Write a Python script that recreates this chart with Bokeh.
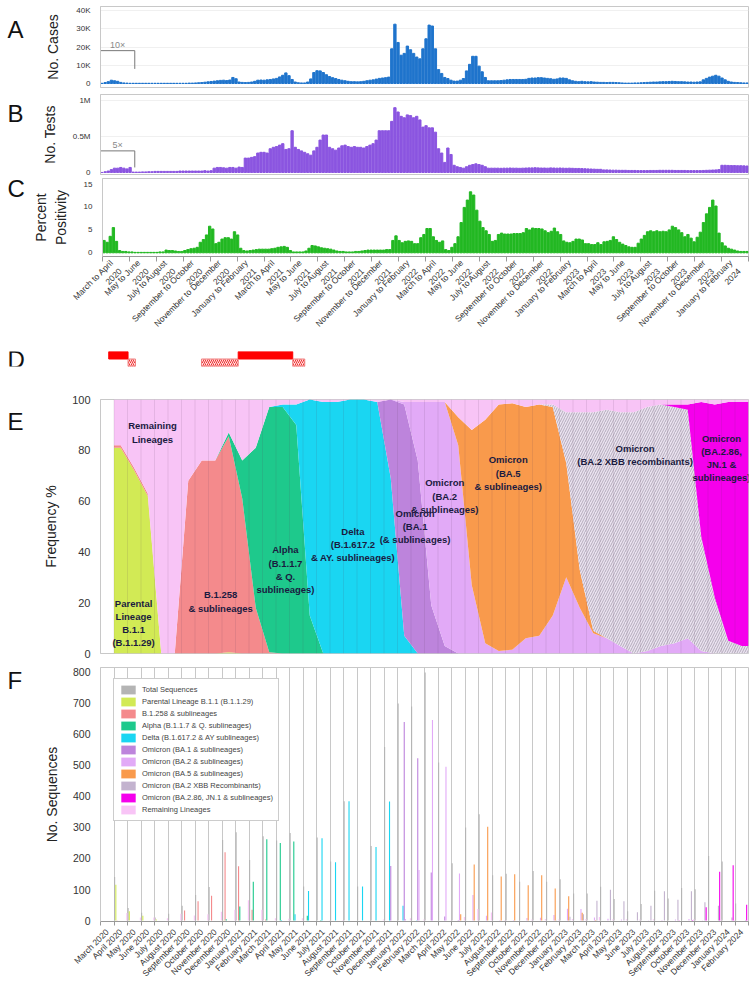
import math
import numpy as np
from bokeh.plotting import figure
from bokeh.layouts import column, row
from bokeh.models import Range1d, FixedTicker
from bokeh.embed import file_html
from bokeh.resources import INLINE
from bokeh.core.properties import value

FONT = "Liberation Sans"
LW = 30          # width of the letter strip
W = 725          # width of each chart
LB = 70
RB = 7

# ---------------- weekly surveillance data (Mar 2020 - Feb 2024) ----------------
cases_thousands = [
    0.1, 0.5, 1.0, 1.8, 1.5, 1.2, 0.6, 0.3, 0.2, 0.1,
    0.1, 0.1, 0.1, 0.1, 0.1, 0.1, 0.1, 0.1, 0.1, 0.1,
    0.1, 0.1, 0.1, 0.1, 0.1, 0.1, 0.1, 0.1, 0.2, 0.2,
    0.3, 0.4, 0.5, 0.7, 0.9, 1.1, 1.3, 1.5, 1.7, 1.8,
    1.6, 1.9, 3.3, 2.6, 0.8, 0.6, 0.5, 0.6, 0.8, 1.2,
    1.8, 1.9, 1.8, 2.0, 2.2, 2.5, 2.8, 3.6, 4.5, 5.8,
    4.3, 2.2, 0.8, 0.4, 0.3, 0.3, 0.8, 2.5, 6.0, 7.0,
    6.9, 6.0, 4.8, 3.8, 3.2, 2.7, 2.2, 1.8, 1.5, 1.2,
    1.0, 1.0, 0.9, 1.0, 1.2, 1.5, 1.8, 2.0, 2.4, 2.8,
    3.0, 3.2, 3.5, 19.0, 32.5, 22.5, 15.5, 16.5, 20.5, 18.5,
    16.5, 14.5, 13.5, 19.0, 24.5, 32.0, 31.5, 19.0, 7.6, 5.5,
    3.3, 2.7, 1.8, 1.3, 1.3, 1.8, 2.7, 6.9, 10.5, 14.9,
    14.9, 9.5, 6.4, 3.3, 1.5, 1.5, 1.5, 1.5, 1.6, 1.8,
    2.0, 2.2, 2.2, 2.2, 2.2, 2.2, 2.3, 2.8, 3.0, 3.0,
    3.2, 3.2, 3.0, 2.8, 2.6, 2.3, 2.5, 3.0, 3.0, 2.8,
    2.0, 1.5, 1.2, 1.0, 1.2, 1.0, 0.9, 1.0, 0.8, 0.7,
    0.6, 0.6, 0.5, 0.6, 0.6, 0.5, 0.4, 0.3, 0.2, 0.2,
    0.2, 0.3, 0.3, 0.4, 0.5, 0.6, 0.7, 0.8, 0.8, 0.9,
    1.0, 1.0, 1.1, 1.2, 1.1, 1.0, 1.0, 0.9, 0.8, 0.8,
    0.7, 0.8, 0.9, 2.0, 2.8, 3.5, 4.0, 4.5, 4.0, 3.0,
    2.0, 1.2, 0.8, 0.6, 0.5, 0.4, 0.3, 0.3,
]

tests_millions = [
    0.0, 0.01, 0.02, 0.04, 0.06, 0.06, 0.07, 0.06, 0.05, 0.07,
    0.005, 0.005, 0.005, 0.008, 0.008, 0.01, 0.01, 0.015, 0.015, 0.015,
    0.015, 0.015, 0.015, 0.015, 0.015, 0.02, 0.02, 0.02, 0.02, 0.02,
    0.02, 0.02, 0.02, 0.025, 0.02, 0.025,
    0.06, 0.07, 0.07, 0.065, 0.06, 0.07, 0.07, 0.06, 0.075, 0.07,
    0.20, 0.20, 0.21, 0.22, 0.27, 0.28, 0.28,
    0.27, 0.33, 0.35, 0.36, 0.38, 0.40, 0.32, 0.33, 0.58, 0.35,
    0.32, 0.30, 0.28, 0.26, 0.24, 0.30, 0.35, 0.45, 0.52, 0.52,
    0.35, 0.33, 0.31, 0.34, 0.37, 0.38, 0.36, 0.35, 0.36, 0.35,
    0.35, 0.34, 0.36, 0.38, 0.40, 0.45,
    0.58, 0.58, 0.58, 0.58,
    0.71, 0.90, 0.84, 0.78, 0.76, 0.80, 0.79, 0.76, 0.78, 0.73,
    0.63, 0.65, 0.62, 0.62, 0.56, 0.33, 0.27, 0.14, 0.34, 0.25,
    0.10, 0.08, 0.07, 0.06, 0.08, 0.10, 0.11, 0.12, 0.11, 0.10,
    0.08, 0.06, 0.06, 0.06, 0.06,
    0.058, 0.060, 0.060, 0.062, 0.060, 0.060, 0.058, 0.060, 0.062, 0.064,
    0.064, 0.066, 0.064, 0.062, 0.062, 0.060, 0.064, 0.062, 0.060, 0.062,
    0.060, 0.058, 0.060, 0.058, 0.056, 0.056, 0.054, 0.052, 0.050, 0.048,
    0.046, 0.044, 0.044,
    0.036, 0.036, 0.034, 0.032, 0.032, 0.030, 0.030, 0.030, 0.028, 0.028,
    0.028, 0.026, 0.026, 0.026, 0.026, 0.028, 0.028, 0.028, 0.030, 0.030,
    0.030, 0.030, 0.030, 0.028, 0.028, 0.028, 0.028, 0.026, 0.026, 0.026,
    0.026, 0.026, 0.028, 0.030, 0.032, 0.034, 0.036, 0.040,
    0.10, 0.10, 0.098, 0.096, 0.096, 0.094, 0.094, 0.092, 0.090,
]

positivity_pct = [
    2.7, 2.3, 3.6, 5.5, 2.5, 0.5, 0.3, 0.3, 0.2, 0.2,
    0.1, 0.1, 0.1, 0.1, 0.1, 0.1, 0.1, 0.1, 0.2, 0.2,
    0.6, 0.5, 0.5, 0.4, 0.3,
    0.3, 0.5, 0.7, 0.9, 1.0, 1.2,
    2.3, 2.9, 3.9, 5.8, 5.2, 2.0, 2.3, 3.0, 3.3, 3.3, 3.0, 4.6, 3.9, 1.0,
    0.5, 0.4, 0.5, 0.6, 0.7, 0.8, 0.8, 0.8, 0.8, 0.9, 1.0, 1.2, 1.3, 1.4, 1.2, 0.5,
    0.2, 0.2, 0.2, 0.2, 0.4,
    1.0, 1.6, 1.5, 1.3, 1.1, 1.0, 0.9, 0.8, 0.6,
    0.4, 0.3, 0.3, 0.2, 0.2, 0.2, 0.3, 0.3, 0.4, 0.5, 0.6, 0.6,
    0.6, 0.6, 0.6, 0.6, 0.7, 0.7,
    2.7, 3.7, 2.7, 2.2, 2.5, 2.6, 2.5, 2.0, 2.0, 3.3,
    4.0, 5.3, 5.3, 3.5, 2.7, 2.3, 2.6, 0.7, 0.5, 1.2,
    2.0, 3.5, 6.6, 9.9, 11.5, 13.3, 12.6, 9.3, 6.9, 5.5,
    4.8, 4.0, 2.5, 2.7, 4.0, 4.3, 4.1, 4.1, 4.1, 4.2, 4.2, 4.2,
    4.4, 5.3, 5.0, 5.4, 5.3, 5.3, 5.2, 4.8, 4.4, 4.7, 5.4,
    4.6, 4.0, 2.6, 2.3, 2.2, 2.5, 3.0, 3.0, 2.8, 2.0, 2.0,
    1.8, 1.8, 2.2, 1.8, 2.4, 2.5, 2.7, 3.5, 2.9, 2.3,
    1.9, 1.6, 1.3, 1.2, 1.2, 2.1, 3.0, 3.8, 4.6, 4.8, 4.6,
    4.8, 4.6, 4.7, 4.6, 5.0, 5.8, 5.5, 5.0, 4.4, 3.5, 4.0,
    3.2, 2.4, 3.4, 4.5, 6.6, 8.5, 9.9, 11.5, 10.2, 4.3,
    2.2, 1.5, 1.0, 0.8, 0.6, 0.4, 0.3, 0.3, 0.3,
]

# first weeks shown magnified
magnified_weeks = 11
cases_scale_label = "10×"
tests_scale_label = "5×"

period_labels = [
    "March to April\n2020", "May to June\n2020", "July to August\n2020",
    "September to October\n2020", "November to December\n2020", "January to February\n2021",
    "March to April\n2021", "May to June\n2021", "July to August\n2021",
    "September to October\n2021", "November to December\n2021", "January to February\n2022",
    "March to April\n2022", "May to June\n2022", "July to August\n2022",
    "September to October\n2022", "November to December\n2022", "January to February\n2023",
    "March to April\n2023", "May to June\n2023", "July to August\n2023",
    "September to October\n2023", "November to December\n2023", "January to February\n2024",
]

# ---------------- D: restriction periods (months since 1 March 2020) ----------------
lockdown_start = [0.61, 10.2]
lockdown_end = [2.04, 14.24]
partial_start = [2.04, 7.48, 14.24]
partial_end = [2.59, 10.2, 15.13]

# ---------------- E: monthly lineage frequency (%) April 2020 - February 2024 ----------------
e_parental = [81, 72, 62, 0, 0, 0, 0, 0, 0.5, 0, 0, 0, 0, 0, 0, 0, 0, 0, 0, 0, 0, 0, 0, 0,
              0, 0, 0, 0, 0, 0, 0, 0, 0, 0, 0, 0, 0, 0, 0, 0, 0, 0, 0, 0, 0, 0, 0]
e_b1258 = [1, 1, 1, 0, 0, 68, 76, 76, 85, 61, 18, 0.5, 0, 0, 0, 0, 0, 0, 0, 0, 0, 0, 0, 0,
           0, 0, 0, 0, 0, 0, 0, 0, 0, 0, 0, 0, 0, 0, 0, 0, 0, 0, 0, 0, 0, 0, 0]
e_alpha = [0, 0, 0, 0, 0, 0, 0, 0, 1.5, 15, 63, 96.5, 97, 90, 15, 0, 0, 0, 0, 0, 0, 0, 0, 0,
           0, 0, 0, 0, 0, 0, 0, 0, 0, 0, 0, 0, 0, 0, 0, 0, 0, 0, 0, 0, 0, 0, 0]
e_delta = [0, 0, 0, 0, 0, 0, 0, 0, 0, 0, 0, 0, 1, 8, 85, 99, 99, 100, 100, 99, 69, 7, 0, 0,
           0, 0, 0, 0, 0, 0, 0, 0, 0, 0, 0, 0, 0, 0, 0, 0, 0, 0, 0, 0, 0, 0, 0]
e_ba1 = [0, 0, 0, 0, 0, 0, 0, 0, 0, 0, 0, 0, 0, 0, 0, 0, 0, 0, 0, 0, 31, 91, 76, 19,
         3, 0, 0, 0, 0, 0, 0, 0, 0, 0, 0, 0, 0, 0, 0, 0, 0, 0, 0, 0, 0, 0, 0]
e_ba2 = [0, 0, 0, 0, 0, 0, 0, 0, 0, 0, 0, 0, 0, 0, 0, 0, 0, 0, 0, 0, 0, 1, 23, 80,
         96, 82, 27, 4, 1, 1.5, 6, 7, 15, 30, 18, 8, 6, 3, 0, 1, 3, 4, 6, 1, 0, 0, 0]
e_ba5 = [0, 0, 0, 0, 0, 0, 0, 0, 0, 0, 0, 0, 0, 0, 0, 0, 0, 0, 0, 0, 0, 0, 0, 0,
         0, 11, 61, 88, 97, 97, 91, 91, 82, 45, 15, 1, 0, 0, 0, 0, 0, 0, 0, 0, 0, 0, 0]
e_xbb = [0, 0, 0, 0, 0, 0, 0, 0, 0, 0, 0, 0, 0, 0, 0, 0, 0, 0, 0, 0, 0, 0, 0, 0,
         0, 0, 0, 0, 0, 0, 0, 0, 1, 20, 62, 86, 90, 92, 95, 96, 95, 93, 90, 45, 22, 5, 3]
e_ba286 = [0, 0, 0, 0, 0, 0, 0, 0, 0, 0, 0, 0, 0, 0, 0, 0, 0, 0, 0, 0, 0, 0, 0, 0,
           0, 0, 0, 0, 0, 0, 0, 0, 0, 0, 0, 0, 0, 0, 0, 0, 0, 1, 2, 53, 76, 94, 96]
e_remaining = [18, 27, 37, 100, 100, 32, 24, 24, 13, 24, 19, 3, 2, 2, 0, 1, 1, 0, 0, 1, 0, 1, 1, 1,
               1, 7, 12, 8, 2, 1.5, 3, 2, 2, 5, 5, 5, 4, 5, 5, 3, 2, 2, 2, 1, 2, 1, 1]

# label anchors (month axis, %)
e_label_x = [2.45, 3.85, 8.9, 13.7, 18.7, 23.3, 25.5, 30.2, 39.6, 46.0]
e_label_y = [12, 87, 20.5, 33, 43, 50, 62, 71, 78, 77]
e_label_text = [
    "Parental\nLineage\nB.1.1\n(B.1.1.29)",
    "Remaining\nLineages",
    "B.1.258\n& sublineages",
    "Alpha\n(B.1.1.7\n& Q.\nsublineages)",
    "Delta\n(B.1.617.2\n& AY. sublineages)",
    "Omicron\n(BA.1\n(& sublineages)",
    "Omicron\n(BA.2\n& sublineages)",
    "Omicron\n(BA.5\n& sublineages)",
    "Omicron\n(BA.2 XBB recombinants)",
    "Omicron\n(BA.2.86,\nJN.1 &\nsublineages)",
]

# ---------------- F: monthly sequence counts, March 2020 - February 2024 ----------------
month_names = ["January", "February", "March", "April", "May", "June", "July",
               "August", "September", "October", "November", "December"]
f_month_labels = [f"{month_names[(2 + i) % 12]} {2020 + (2 + i) // 12}" for i in range(48)]

f_total = [0, 140, 40, 25, 10, 22, 48, 82, 108, 260, 285, 195, 272, 258, 282, 110, 268, 190, 385, 110,
           240, 560, 700, 690, 800, 510, 185, 300, 343, 146, 151, 125, 160, 125, 133, 87, 87, 109, 69, 30,
           53, 96, 71, 105, 101, 208, 190, 55]
f_parental = [0, 115, 30, 15, 3, 0, 0, 0, 0, 1, 0, 0, 0, 0, 0, 0, 0, 0, 0, 0,
              0, 0, 0, 0, 0, 0, 0, 0, 0, 0, 0, 0, 0, 0, 0, 0, 0, 0, 0, 0, 0, 0, 0, 0, 0, 0, 0, 0]
f_b1258 = [0, 1, 0, 0, 0, 0, 32, 62, 80, 220, 175, 35, 3, 0, 0, 0, 0, 0, 0, 0,
           0, 0, 0, 0, 0, 0, 0, 0, 0, 0, 0, 0, 0, 0, 0, 0, 0, 0, 0, 0, 0, 0, 0, 0, 0, 0, 0, 0]
f_alpha = [0, 0, 0, 0, 0, 0, 0, 0, 0, 4, 45, 125, 262, 250, 255, 15, 2, 0, 0, 0,
           0, 0, 0, 0, 0, 0, 0, 0, 0, 0, 0, 0, 0, 0, 0, 0, 0, 0, 0, 0, 0, 0, 0, 0, 0, 0, 0, 0]
f_delta = [0, 0, 0, 0, 0, 0, 0, 0, 0, 0, 0, 0, 0, 2, 20, 95, 265, 188, 385, 110,
           237, 384, 48, 1, 0, 0, 0, 0, 0, 0, 0, 0, 0, 0, 0, 0, 0, 0, 0, 0, 0, 0, 0, 0, 0, 0, 0, 0]
f_ba1 = [0, 0, 0, 0, 0, 0, 0, 0, 0, 0, 0, 0, 0, 0, 0, 0, 0, 0, 0, 0,
         0, 176, 640, 523, 155, 13, 2, 0, 0, 0, 0, 0, 0, 0, 0, 0, 0, 0, 0, 0, 0, 0, 0, 0, 0, 0, 0, 0]
f_ba2 = [0, 0, 0, 0, 0, 0, 0, 0, 0, 0, 0, 0, 0, 0, 0, 0, 0, 0, 0, 0,
         0, 0, 5, 163, 647, 496, 152, 82, 15, 2, 2, 8, 9, 18, 38, 37, 10, 6, 3, 0,
         1, 2, 3, 5, 1, 0, 0, 0]
f_ba5 = [0, 0, 0, 0, 0, 0, 0, 0, 0, 0, 0, 0, 0, 0, 0, 0, 0, 0, 0, 0,
         0, 0, 0, 0, 0, 0, 20, 181, 302, 142, 149, 114, 146, 103, 78, 25, 2, 0, 0, 0,
         0, 0, 0, 0, 0, 0, 0, 0]
f_xbb = [0, 0, 0, 0, 0, 0, 0, 0, 0, 0, 0, 0, 0, 0, 0, 0, 0, 0, 0, 0,
         0, 0, 0, 0, 0, 0, 0, 0, 0, 0, 0, 0, 0, 1, 12, 20, 64, 99, 62, 27,
         48, 94, 67, 94, 59, 48, 10, 2]
f_ba286 = [0, 0, 0, 0, 0, 0, 0, 0, 0, 0, 0, 0, 0, 0, 0, 0, 0, 0, 0, 0,
           0, 0, 0, 0, 0, 0, 0, 0, 0, 0, 0, 0, 0, 0, 0, 0, 0, 0, 0, 0,
           0, 0, 1, 2, 43, 157, 178, 51]
f_remaining = [0, 24, 10, 10, 7, 22, 16, 20, 28, 35, 65, 35, 7, 6, 7, 0, 1, 2, 0, 0,
               3, 0, 7, 3, 0, 1, 11, 37, 26, 2, 0, 3, 5, 3, 5, 5, 11, 4, 4, 3,
               4, 0, 0, 4, 0, 3, 2, 2]

series_names = [
    "Total Sequences", "Parental Lineage B.1.1 (B.1.1.29)", "B.1.258 & sublineages",
    "Alpha (B.1.1.7 & Q. sublineages)", "Delta (B.1.617.2 & AY sublineages)",
    "Omicron (BA.1 & sublineages)", "Omicron (BA.2 & sublineages)", "Omicron (BA.5 & sublineages)",
    "Omicron (BA.2 XBB Recombinants)", "Omicron (BA.2.86, JN.1 & sublineages)", "Remaining Lineages",
]
series_colors = ["#b4b4b4", "#d2ea55", "#f48a8c", "#1ec98c", "#1ad6f2", "#bd84dc",
                 "#e2aaf7", "#f99a4c", "#c3b3cf", "#f500ec", "#f8c4f6"]
f_series = [f_total, f_parental, f_b1258, f_alpha, f_delta, f_ba1, f_ba2, f_ba5, f_xbb, f_ba286, f_remaining]
e_series = [e_parental, e_b1258, e_alpha, e_delta, e_ba1, e_ba2, e_ba5, e_xbb, e_ba286, e_remaining]


# ---------------- helpers ----------------
def make_fig(h, top, bottom, xr, yr):
    p = figure(width=W, height=h, min_border_left=LB, min_border_right=RB,
               min_border_top=top, min_border_bottom=bottom,
               x_range=Range1d(*xr), y_range=Range1d(*yr),
               output_backend="svg", toolbar_location=None)
    p.outline_line_color = "#c8c8c8"
    p.xgrid.grid_line_color = None
    p.ygrid.grid_line_color = None
    return p


def style_y(p, ticks, overrides, fs, label, standoff):
    ax = p.yaxis[0]
    ax.ticker = FixedTicker(ticks=ticks)
    if overrides:
        ax.major_label_overrides = overrides
    ax.major_label_text_font = FONT
    ax.major_label_text_font_size = fs
    ax.major_label_text_color = "#333333"
    ax.major_tick_line_color = None
    ax.minor_tick_line_color = None
    ax.axis_line_color = "#c8c8c8"
    ax.major_label_standoff = 4
    ax.axis_label = label
    ax.axis_label_text_font = FONT
    ax.axis_label_text_font_style = "normal"
    ax.axis_label_text_font_size = "14px"
    ax.axis_label_text_color = "#222222"
    ax.axis_label_standoff = standoff


def letter_strip(h, txt, baseline):
    p = figure(width=LW, height=h, x_range=Range1d(0, LW), y_range=Range1d(h, 0),
               min_border_left=0, min_border_right=0, min_border_top=0, min_border_bottom=0,
               x_axis_location=None, y_axis_location=None,
               output_backend="svg", toolbar_location=None)
    p.grid.visible = False
    p.outline_line_color = None
    p.text(x=[7], y=[baseline], text=[txt], text_font=value(FONT), text_font_size="24px",
           text_color="#111111", text_baseline="alphabetic", text_align="left")
    return p


def weekly_x(n):
    return (np.arange(n) + 0.5) * 48.0 / n


# ---------------- A ----------------
HA = 90
pa = make_fig(HA, 6, 3, (0, 48), (-2.2, 42.2))
pa.xaxis.visible = False
style_y(pa, [0, 10, 20, 30, 40], {0: "0", 10: "10K", 20: "20K", 30: "30K", 40: "40K"}, "8px", "No. Cases", 12)
pa.ygrid.grid_line_color = "#f0f0f0"
pa.ygrid.ticker = FixedTicker(ticks=[10, 20, 30, 40])
xa = weekly_x(len(cases_thousands))
pa.vbar(x=xa, top=cases_thousands, width=0.75 * 48 / len(cases_thousands), color="#1f74cc")
mag_end = magnified_weeks * 48.0 / len(cases_thousands)
pa.line(x=[0, 0, mag_end, mag_end], y=[1.5, 18, 18, 8], line_color="#777777", line_width=1)
pa.text(x=[mag_end / 2], y=[18.5], text=[cases_scale_label], text_align="center", text_baseline="bottom",
        text_font=value(FONT), text_font_size="9px", text_color="#888888")

# ---------------- B ----------------
HB = 86
pb = make_fig(HB, 4, 2, (0, 48), (-0.028, 1.083))
pb.xaxis.visible = False
style_y(pb, [0, 0.5, 1.0], {0: "0", 0.5: "0.5M", 1: "1M"}, "8px", "No. Tests", 12)
pb.ygrid.grid_line_color = "#f0f0f0"
pb.ygrid.ticker = FixedTicker(ticks=[0.5, 1.0])
xb = weekly_x(len(tests_millions))
pb.vbar(x=xb, top=tests_millions, width=0.75 * 48 / len(tests_millions), color="#8b55e0")
pb.line(x=[0, 0, mag_end, mag_end], y=[0.01, 0.3, 0.3, 0.07], line_color="#777777", line_width=1)
pb.text(x=[mag_end / 2], y=[0.31], text=[tests_scale_label], text_align="center", text_baseline="bottom",
        text_font=value(FONT), text_font_size="9px", text_color="#888888")

# ---------------- C ----------------
HC = 171
pc = make_fig(HC, 2, 84, (0, 48), (-0.8, 16.2))
style_y(pc, [0, 5, 10, 15], None, "8px", "Percent\nPositivity", 12)
xc = weekly_x(len(positivity_pct))
pc.vbar(x=xc, top=positivity_pct, width=0.75 * 48 / len(positivity_pct), color="#22b822")
cax = pc.xaxis[0]
centers = [2 * i + 1 for i in range(len(period_labels))]
cax.ticker = FixedTicker(ticks=centers, minor_ticks=[2 * i for i in range(len(period_labels) + 1)])
cax.major_label_overrides = {c: lbl for c, lbl in zip(centers, period_labels)}
cax.major_label_orientation = math.pi / 4
cax.major_label_text_font = FONT
cax.major_label_text_font_size = "8.5px"
cax.major_label_text_color = "#333333"
cax.major_tick_line_color = None
cax.minor_tick_line_color = "#999999"
cax.minor_tick_out = 5
cax.minor_tick_in = 0
cax.axis_line_color = "#999999"
cax.major_label_standoff = 3

# ---------------- D ----------------
HD = 45
pd_ = make_fig(HD, 4, 26, (0, 48), (0, 2))
pd_.xaxis.visible = False
pd_.yaxis.visible = False
pd_.outline_line_color = None
pd_.quad(left=lockdown_start, right=lockdown_end, bottom=1, top=2, fill_color="#ff0000", line_color="#ff0000")
pd_.quad(left=partial_start, right=partial_end, bottom=0, top=1, fill_color="#ffe0e0", line_color="#f08080",
         hatch_pattern="/", hatch_color="#ee3333", hatch_scale=4, hatch_weight=1)

# ---------------- E ----------------
HE = 268
pe = make_fig(HE, 7, 7, (0, 48), (0, 100))
pe.xaxis.visible = False
style_y(pe, [0, 20, 40, 60, 80, 100], None, "11px", "Frequency %", 10)
n_e = len(e_parental)
centres_e = np.arange(1, n_e + 1) + 0.5              # month centres, April 2020 = month 1
xs_e = np.concatenate([[1.0], centres_e, [48.0]])   # first/last month drawn to their edges
base = np.zeros(len(xs_e))
for k, vals in enumerate(e_series):
    v = np.pad(np.array(vals, dtype=float), 1, mode="edge")
    top = base + v
    color = series_colors[k + 1]
    if k == 7:
        pe.varea(x=xs_e, y1=base, y2=top, fill_color="#ebe3f0", hatch_pattern="/", hatch_color="#b4acbc",
                 hatch_scale=5, hatch_weight=1)
    else:
        pe.varea(x=xs_e, y1=base, y2=top, fill_color=color)
    base = top
sep = np.arange(1, 48)
pe.segment(x0=sep, y0=0, x1=sep, y1=100, line_color="#5a3a5a", line_alpha=0.12, line_width=1)
pe.text(x=e_label_x, y=e_label_y, text=e_label_text, text_align="center", text_baseline="middle",
        text_font=value(FONT), text_font_style="bold", text_font_size="9.5px", text_color="#1a1a40",
        text_line_height=1.2)

# ---------------- F ----------------
HF = 325
pf = make_fig(HF, 7, 62, (0, 48), (-3.2, 816))
style_y(pf, [0, 100, 200, 300, 400, 500, 600, 700, 800], None, "10.5px", "No. Sequences", 10)
pf.xgrid.grid_line_color = "#c8c8c8"
pf.xgrid.ticker = FixedTicker(ticks=list(range(1, 48)))
fax = pf.xaxis[0]
mcent = [m + 0.5 for m in range(len(f_month_labels))]
fax.ticker = FixedTicker(ticks=mcent, minor_ticks=list(range(len(f_month_labels) + 1)))
fax.major_label_overrides = {c: lbl for c, lbl in zip(mcent, f_month_labels)}
fax.major_label_orientation = math.pi / 4
fax.major_label_text_font = FONT
fax.major_label_text_font_size = "8.5px"
fax.major_label_text_color = "#333333"
fax.major_tick_line_color = None
fax.minor_tick_line_color = "#999999"
fax.minor_tick_out = 4
fax.minor_tick_in = 0
fax.axis_line_color = "#999999"
fax.major_label_standoff = 3
nser = len(f_series)
months = np.arange(len(f_total))
for k, (vals, name, color) in enumerate(zip(f_series, series_names, series_colors)):
    pf.vbar(x=months + (k + 0.5) / nser, top=vals, width=0.9 / nser, fill_color=color, line_color=None,
            legend_label=name)
lg = pf.legend[0]
lg.location = (13, 100)
lg.label_text_font = FONT
lg.label_text_font_size = "7.5px"
lg.label_height = 11
lg.glyph_height = 11
lg.glyph_width = 18
lg.spacing = 1
lg.padding = 5
lg.margin = 0
lg.label_standoff = 5
lg.border_line_color = "#999999"
lg.background_fill_alpha = 1.0

layout = column(
    row(letter_strip(HA, "A", 25), pa, spacing=0),
    row(letter_strip(HB, "B", 20), pb, spacing=0),
    row(letter_strip(HC, "C", 22), pc, spacing=0),
    row(letter_strip(HD, "D", 23), pd_, spacing=0),
    row(letter_strip(HE, "E", 23), pe, spacing=0),
    row(letter_strip(HF, "F", 17), pf, spacing=0),
    spacing=0,
)
open("out.html", "w").write(file_html(layout, INLINE, title="SARS-CoV-2 surveillance"))
